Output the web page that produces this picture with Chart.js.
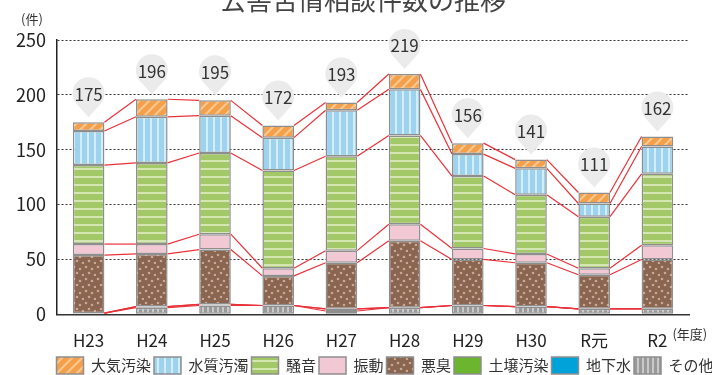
<!DOCTYPE html>
<html lang="ja">
<head>
<meta charset="utf-8">
<script src="https://cdn.jsdelivr.net/npm/chart.js@4.4.1/dist/chart.umd.min.js"></script>
<style>
  html, body { margin: 0; padding: 0; background: #fff; }
</style>
</head>
<body>
<canvas id="kujoChart" width="712" height="375"></canvas>
<script>
// 年度
let years = ["H23", "H24", "H25", "H26", "H27", "H28", "H29", "H30", "R元", "R2"];

// 種類別件数（下から積み上げ順）
let sonota    = [1, 6, 8, 8, 3, 6, 8, 7, 5, 5];
let chikasui  = [0, 1, 1, 0, 2, 0, 0, 0, 0, 0];
let dojou     = [0, 0, 0, 0, 0, 0, 0, 0, 0, 0];
let akushu    = [53, 48, 50, 27, 42, 61, 42, 40, 31, 45];
let shindou   = [10, 9, 14, 7, 11, 15, 10, 8, 6, 13];
let souon     = [72, 74, 74, 89, 86, 81, 66, 54, 47, 65];
let suishitsu = [31, 42, 34, 30, 42, 42, 20, 24, 12, 25];
let taiki     = [8, 16, 14, 11, 7, 14, 10, 8, 10, 9];

// y軸の目盛り
let yTicks = [0, 50, 100, 150, 200, 250];

Chart.defaults.font.family = "'Noto Sans CJK JP', 'Noto Sans', sans-serif";
Chart.defaults.color = "#333";

/* small helper for the striped / dotted fills */
function makePattern(w, h, base, drawFn) {
    let c = document.createElement("canvas");
    c.width = w;
    c.height = h;
    let g = c.getContext("2d");
    g.fillStyle = base;
    g.fillRect(0, 0, w, h);
    drawFn(g, w, h);
    return g.createPattern(c, "repeat");
}

let patTaiki = makePattern(10, 10, "#f4a04b", function (g) {
    g.strokeStyle = "#f9c891";
    g.lineWidth = 2;
    g.beginPath();
    g.moveTo(-2, 12); g.lineTo(12, -2);
    g.moveTo(-7, 7); g.lineTo(7, -7);
    g.moveTo(3, 17); g.lineTo(17, 3);
    g.stroke();
});
let patSuishitsu = makePattern(7, 4, "#9dd3ef", function (g) {
    g.fillStyle = "#d4edfa";
    g.fillRect(3, 0, 2, 4);
});
let patSouon = makePattern(4, 8, "#a3c867", function (g) {
    g.fillStyle = "#d4e7b3";
    g.fillRect(0, 0, 4, 2);
});
let patAkushu = makePattern(12, 12, "#8a6550", function (g) {
    g.fillStyle = "#c8a797";
    [[2, 3], [8, 5], [5, 9], [11, 11]].forEach(function (p) {
        g.beginPath();
        g.arc(p[0], p[1], 1.3, 0, Math.PI * 2);
        g.fill();
    });
});
let patSonota = makePattern(5, 4, "#9a9a9a", function (g) {
    g.fillStyle = "#c9c9c9";
    g.fillRect(2, 0, 2, 4);
});

let barBorder = "#8e8e8e";

function bar(label, data, fill) {
    return {
        label: label,
        data: data,
        backgroundColor: fill,
        borderColor: barBorder,
        borderWidth: 1.5,
        borderSkipped: false,
        barPercentage: 0.5,
        categoryPercentage: 1.0
    };
}

/* red connector lines between stacks, pins with totals, title and unit texts */
let decoPlugin = {
    id: "deco",
    afterDatasetsDraw: function (chart) {
        let ctx = chart.ctx;
        let yScale = chart.scales.y;
        let metas = chart.getSortedVisibleDatasetMetas();
        let bars = metas[0].data;
        let n = years.length;

        // cumulative tops
        let cum = [];
        for (let i = 0; i < n; i++) {
            let s = 0, row = [];
            chart.data.datasets.forEach(function (ds) {
                s += ds.data[i];
                row.push(s);
            });
            cum.push(row);
        }

        ctx.save();
        ctx.strokeStyle = "#e8323a";
        ctx.lineWidth = 1.2;
        for (let i = 0; i < n - 1; i++) {
            let x1 = bars[i].x + bars[i].width / 2;
            let x2 = bars[i + 1].x - bars[i + 1].width / 2;
            for (let k = 0; k < cum[i].length; k++) {
                ctx.beginPath();
                ctx.moveTo(x1, yScale.getPixelForValue(cum[i][k]));
                ctx.lineTo(x2, yScale.getPixelForValue(cum[i + 1][k]));
                ctx.stroke();
            }
        }

        // pins
        let r = 16, d = 24, a = Math.acos(r / d);
        for (let i = 0; i < n; i++) {
            let total = cum[i][cum[i].length - 1];
            let x = bars[i].x;
            let tip = yScale.getPixelForValue(total) - 5;
            let cy = tip - d;
            ctx.beginPath();
            ctx.moveTo(x, tip);
            ctx.arc(x, cy, r, Math.PI / 2 + a, Math.PI / 2 - a, false);
            ctx.closePath();
            ctx.fillStyle = "#ebebeb";
            ctx.fill();
            ctx.fillStyle = "#333";
            ctx.font = "17px 'Noto Sans CJK JP', sans-serif";
            ctx.textAlign = "center";
            ctx.textBaseline = "middle";
            ctx.fillText(String(total), x, cy + 1);
        }
        ctx.restore();
    },
    afterDraw: function (chart) {
        let ctx = chart.ctx;
        let xScale = chart.scales.x;
        ctx.save();
        ctx.fillStyle = "#444";
        ctx.textAlign = "center";
        ctx.textBaseline = "middle";
        ctx.font = "26px 'Noto Sans CJK JP', sans-serif";
        ctx.fillText("公害苦情相談件数の推移", 363, 0);

        ctx.fillStyle = "#333";
        ctx.font = "13px 'Noto Sans CJK JP', sans-serif";
        ctx.fillText("(件)", 32, 19);

        ctx.textAlign = "left";
        ctx.fillText("(年度)", xScale.getPixelForValue(years.length - 1) + 15, 334);
        ctx.restore();
    }
};

let ctx = document.getElementById("kujoChart").getContext("2d");

let kujoChart = new Chart(ctx, {
    type: "bar",
    data: {
        labels: years,
        datasets: [
            bar("その他", sonota, patSonota),
            bar("地下水", chikasui, "#00a3d9"),
            bar("土壌汚染", dojou, "#6bb52f"),
            bar("悪臭", akushu, patAkushu),
            bar("振動", shindou, "#f2c8d4"),
            bar("騒音", souon, patSouon),
            bar("水質汚濁", suishitsu, patSuishitsu),
            bar("大気汚染", taiki, patTaiki)
        ]
    },
    options: {
        responsive: false,
        animation: false,
        layout: {
            padding: { left: 0, right: -4.5, top: 40, bottom: -9 }
        },
        plugins: {
            title: { display: false },
            tooltip: { enabled: false },
            legend: {
                position: "bottom",
                align: "end",
                reverse: true,
                labels: {
                    boxWidth: 27,
                    boxHeight: 17,
                    padding: 3,
                    color: "#333",
                    font: { size: 15 }
                }
            }
        },
        scales: {
            x: {
                stacked: true,
                grid: { display: false },
                border: { display: true, color: "#333", width: 1.5 },
                ticks: {
                    color: "#222",
                    padding: 8,
                    font: { size: 17 }
                },
                afterFit: function (scale) {
                    scale.height = 39.7;
                }
            },
            y: {
                stacked: true,
                min: 0,
                max: 250,
                grid: {
                    color: function (c) { return c.tick.value === 0 ? "rgba(0,0,0,0)" : "#333"; },
                    lineWidth: 1,
                    drawTicks: false
                },
                border: { display: true, color: "#222", width: 1.5, dash: [2, 2] },
                afterBuildTicks: function (scale) {
                    scale.ticks = yTicks.map(function (v) { return { value: v }; });
                },
                ticks: {
                    color: "#222",
                    padding: 11,
                    font: { size: 18 }
                },
                afterFit: function (scale) {
                    scale.width = 57;
                }
            },
            yPad: {
                position: "right",
                display: true,
                grid: { display: false },
                border: { display: false },
                ticks: { display: false },
                afterFit: function (scale) {
                    scale.width = 27.5;
                }
            }
        }
    },
    plugins: [decoPlugin]
});
</script>
</body>
</html>
